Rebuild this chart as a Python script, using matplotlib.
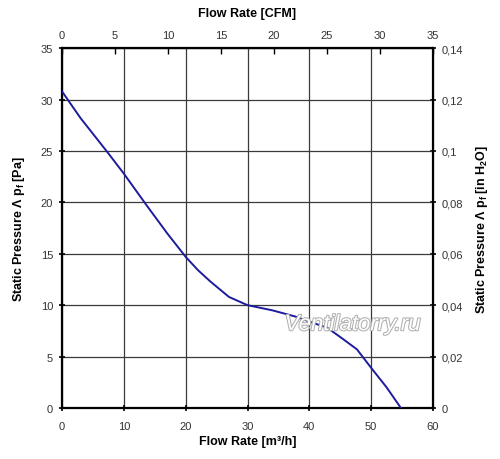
import matplotlib
matplotlib.use("Agg")
import matplotlib.pyplot as plt
import matplotlib.patheffects as pe

plt.rcParams['font.family'] = ['Liberation Sans', 'DejaVu Sans']

# fan curve
flow_m3h = [0, 3, 7.2, 10, 13.7, 17, 20, 22, 24, 27, 30, 34, 37.7, 40, 42.9, 45, 47.7, 50, 52.5, 54.8]
pressure_pa = [30.8, 28.2, 25.0, 22.8, 19.7, 17.0, 14.7, 13.4, 12.3, 10.8, 10.0, 9.5, 8.9, 8.4, 7.8, 6.9, 5.7, 3.9, 2.0, 0.0]

x_ticks = [0, 10, 20, 30, 40, 50, 60]
y_ticks = [0, 5, 10, 15, 20, 25, 30, 35]
cfm_ticks = [0, 5, 10, 15, 20, 25, 30, 35]
inh2o_ticks = [0, 0.02, 0.04, 0.06, 0.08, 0.1, 0.12, 0.14]

M3H_PER_CFM = 60 / 35
PA_PER_INH2O = 250

fig = plt.figure(figsize=(5, 4.6), dpi=100)
ax = fig.add_axes([0.124, 0.111, 0.742, 0.782])

ax.plot(flow_m3h, pressure_pa, color='#1c1c9c', lw=1.4, zorder=3)
ax.set_xlim(0, 60)
ax.set_ylim(0, 35)
ax.set_xticks(x_ticks)
ax.set_yticks(y_ticks)
ax.grid(True, color='#3a3a3a', lw=0.9)
ax.tick_params(labelsize=8, labelcolor='#333333', direction='inout', length=5, width=1.2, pad=4)
ax.tick_params(axis='x', pad=7)
for s in ax.spines.values():
    s.set_linewidth(1.6)

ax.set_xlabel('Flow Rate [m³/h]', fontsize=9, fontweight='bold', labelpad=3)
ax.set_ylabel('Static Pressure Λ p$_\\mathregular{f}$ [Pa]', fontsize=9, fontweight='bold', labelpad=10)

top = ax.secondary_xaxis('top', functions=(lambda v: v / M3H_PER_CFM, lambda v: v * M3H_PER_CFM))
top.set_xticks(cfm_ticks)
top.tick_params(labelsize=8, labelcolor='#333333', direction='in', length=4, width=1, pad=6)
top.set_xlabel('Flow Rate [CFM]', fontsize=9, fontweight='bold', labelpad=10)

right = ax.secondary_yaxis('right', functions=(lambda v: v / PA_PER_INH2O, lambda v: v * PA_PER_INH2O))
right.set_yticks(inh2o_ticks)
right.set_yticklabels([('%g' % t).replace('.', ',') for t in inh2o_ticks])
right.tick_params(labelsize=8, labelcolor='#333333', direction='inout', length=5, width=1.2)
right.set_ylabel('Static Pressure Λ p$_\\mathregular{f}$ [in H$_\\mathregular{2}$O]', fontsize=9, fontweight='bold', labelpad=8)

ax.text(47, 8.1, 'Ventilatorry.ru', fontsize=16, style='italic', color='white',
        ha='center', va='center', zorder=4,
        path_effects=[pe.withStroke(linewidth=1.5, foreground='#b0b0b0')])

fig.savefig('out.png', dpi=100)
